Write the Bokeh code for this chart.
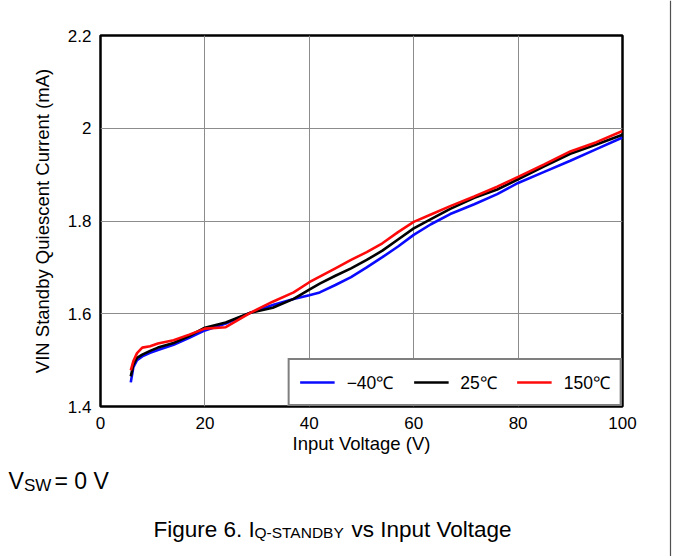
from bokeh.plotting import figure
from bokeh.models import Range1d, Legend, LegendItem, FixedTicker, Span
from bokeh.layouts import column, row
from bokeh.core.properties import value
from bokeh.embed import file_html
from bokeh.resources import INLINE

# ---------------- data ----------------
voltage = [5.8, 6.3, 7.0, 8.0, 9.5, 11, 14, 17, 20, 24, 28.7, 33, 37, 40, 42,
           45, 48, 51, 54, 57, 60, 63.3, 67, 71.6, 76, 80, 85, 90, 95, 100]
iq_m40 = [1.452, 1.485, 1.500, 1.508, 1.516, 1.522, 1.533, 1.548, 1.564, 1.579,
          1.602, 1.619, 1.632, 1.640, 1.646, 1.662, 1.679, 1.700, 1.722, 1.745,
          1.770, 1.793, 1.815, 1.836, 1.858, 1.882, 1.906, 1.930, 1.955, 1.980]
iq_25 = [1.465, 1.490, 1.505, 1.512, 1.520, 1.527, 1.537, 1.552, 1.570, 1.581,
         1.602, 1.613, 1.632, 1.652, 1.665, 1.682, 1.698, 1.716, 1.736, 1.760,
         1.784, 1.804, 1.826, 1.850, 1.868, 1.890, 1.918, 1.945, 1.965, 1.986]
iq_150 = [1.478, 1.498, 1.515, 1.527, 1.530, 1.536, 1.543, 1.555, 1.568, 1.571,
          1.602, 1.626, 1.646, 1.668, 1.680, 1.698, 1.716, 1.733, 1.752, 1.776,
          1.798, 1.814, 1.832, 1.853, 1.874, 1.895, 1.922, 1.950, 1.970, 1.994]
series_labels = ["\u221240\u2103", "25\u2103", "150\u2103"]
series_colors = ["#0a0aff", "#000000", "#ff0a0a"]
x_ticks = [0, 20, 40, 60, 80, 100]
y_ticks = [1.4, 1.6, 1.8, 2.0, 2.2]
y_tick_text = ["1.4", "1.6", "1.8", "2", "2.2"]
x_range = (0, 100)
y_range = (1.4, 2.2)

FONT = "Liberation Sans"
W, H = 674, 556
W_EDGE = 6                 # strip holding the page-edge rule on the right
W_MAIN = W - W_EDGE
H_MAIN = 460
FL, FR, FT, FB = 100, 622, 35, 406  # frame edges in pixels

p = figure(width=W_MAIN, height=H_MAIN, output_backend="svg", toolbar_location=None,
           x_range=Range1d(*x_range), y_range=Range1d(*y_range),
           min_border_left=FL, min_border_right=W_MAIN - FR,
           min_border_top=FT, min_border_bottom=H_MAIN - FB)
p.background_fill_color = "white"
p.border_fill_color = "white"
p.outline_line_color = "black"
p.outline_line_width = 2.5

for ax in (p.xaxis[0], p.yaxis[0]):
    ax.axis_line_color = None
    ax.major_tick_line_color = None
    ax.minor_tick_line_color = None
    ax.major_tick_out = 0
    ax.major_tick_in = 0
    ax.minor_tick_out = 0
    ax.minor_tick_in = 0
    ax.major_label_text_font = FONT
    ax.major_label_text_font_size = "17px"
    ax.major_label_text_color = "black"
    ax.axis_label_text_font = FONT
    ax.axis_label_text_font_size = "18.5px"
    ax.axis_label_text_font_style = "normal"
    ax.axis_label_text_color = "black"

p.xaxis.ticker = FixedTicker(ticks=x_ticks)
p.yaxis.ticker = FixedTicker(ticks=y_ticks)
p.yaxis.major_label_overrides = {t: s for t, s in zip(y_ticks, y_tick_text)}
p.xaxis.axis_label = "Input Voltage (V)"
p.yaxis.axis_label = "VIN Standby Quiescent Current (mA)"
p.xaxis.major_label_standoff = 10
p.yaxis.major_label_standoff = 9
p.xaxis.axis_label_standoff = 1
p.yaxis.axis_label_standoff = 12

p.xgrid.ticker = FixedTicker(ticks=x_ticks)
p.ygrid.ticker = FixedTicker(ticks=y_ticks)
for g in (p.xgrid[0], p.ygrid[0]):
    g.grid_line_color = "#8c8c8c"
    g.grid_line_width = 1

items = []
for ys, lab, col in zip([iq_m40, iq_25, iq_150], series_labels, series_colors):
    r = p.line(voltage, ys, line_color=col, line_width=2.6)
    items.append(LegendItem(label=lab, renderers=[r]))

legend = Legend(items=items, location="bottom_right", orientation="horizontal",
                margin=0, padding=10, spacing=20, label_standoff=12,
                glyph_width=35, glyph_height=18, label_height=18,
                border_line_color="black", border_line_width=2,
                background_fill_color="white", background_fill_alpha=1,
                label_text_font=FONT, label_text_font_size="17.5px",
                label_text_color="black")
p.add_layout(legend)

# ---------------- notes below the chart ----------------
H_NOTE = H - H_MAIN
q = figure(width=W_MAIN, height=H_NOTE, output_backend="svg", toolbar_location=None,
           x_range=Range1d(0, W_MAIN), y_range=Range1d(H_NOTE, 0),
           min_border=0, x_axis_type=None, y_axis_type=None)
q.outline_line_color = None
q.grid.visible = False
q.background_fill_color = "white"
q.border_fill_color = "white"

notes = [
    ("V", 8, 20, "23px"),
    ("SW", 23.5, 25, "17px"),
    ("= 0 V", 54, 20, "23px"),
    ("Figure 6. I", 153, 69, "22.5px"),
    ("Q-STANDBY", 254, 72, "15.5px"),
    ("vs Input Voltage", 351, 69, "22.5px"),
]
for t, px, py, fs in notes:
    q.text(x=[px], y=[py], text=[t], text_font=value(FONT), text_font_size=fs,
           text_color="black", text_align="left", text_baseline="alphabetic")

# ---------------- page-edge rule on the right ----------------
e = figure(width=W_EDGE, height=H, output_backend="svg", toolbar_location=None,
           x_range=Range1d(0, W_EDGE), y_range=Range1d(0, 1),
           min_border=0, x_axis_type=None, y_axis_type=None)
e.outline_line_color = None
e.grid.visible = False
e.background_fill_color = "white"
e.border_fill_color = "white"
e.add_layout(Span(location=2, dimension="height", line_color="#505050", line_width=1.2))

for fig in (p, q, e):
    if "frame_align" in fig.properties():
        fig.frame_align = False

layout = row(column(p, q, spacing=0), e, spacing=0)
open("out.html", "w").write(file_html(layout, INLINE))
